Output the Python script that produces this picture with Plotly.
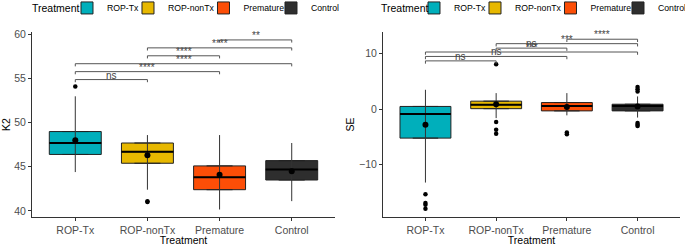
import plotly.graph_objects as go

categories = ["ROP-Tx", "ROP-nonTx", "Premature", "Control"]
colors = ["#00AFBB", "#E7B800", "#FC4E07", "#2E2E2E"]

# K2 panel
k2_q1 = [46.4, 45.4, 42.4, 43.5]
k2_median = [47.7, 46.7, 43.8, 44.7]
k2_q3 = [49.0, 47.7, 45.1, 45.7]
k2_mean = [48.0, 46.3, 44.1, 44.5]
k2_low = [44.4, 42.4, 40.15, 41.1]
k2_high = [53.0, 48.6, 48.6, 47.7]
k2_outliers = [[54.1], [41.0, 41.1], [], []]
k2_bracket_y = [54.9, 55.8, 56.7, 57.6, 58.5, 59.4]
k2_labels = ["ns", "****", "****", "****", "****", "**"]

# SE panel
se_q1 = [-5.2, 0.1, -0.3, -0.3]
se_median = [-0.85, 0.8, 0.6, 0.6]
se_q3 = [0.5, 1.45, 1.2, 0.9]
se_mean = [-2.8, 0.9, 0.4, 0.5]
se_low = [-13.2, -1.6, -1.1, -1.5]
se_high = [3.5, 2.9, 2.9, 2.3]
se_outliers = [[-15.3, -16.9, -17.2, -17.9], [8.1, -2.3, -3.7, -4.4],
               [-4.2, -4.5], [3.2, 3.6, 4.0, -2.5, -2.8, -3.0]]
se_bracket_y = [8.7, 9.5, 10.3, 11.0, 11.8, 12.6]
se_labels = ["ns", "ns", "***", "ns", "***", "****"]

pairs = [(0, 1), (0, 2), (0, 3), (1, 2), (1, 3), (2, 3)]
legend_widths = [16, 30.5, 22.5, 30]

FONT = "Liberation Sans, Arial, sans-serif"
fig = go.Figure()
BW = 0.72


def add_panel(xa, ya, legend, q1, med, q3, mean, low, high, outl, by, labels, tick):
    for i, c in enumerate(categories):
        fig.add_trace(go.Box(x=[i], q1=[q1[i]], median=[med[i]], q3=[q3[i]],
                             lowerfence=[q1[i]], upperfence=[q3[i]], width=BW,
                             fillcolor=colors[i], line=dict(color="#222222", width=1),
                             boxpoints=False, name=c, legend=legend, legendwidth=legend_widths[i],
                             xaxis=xa, yaxis=ya, hoverinfo="skip"))
    for i in range(len(categories)):
        fig.add_trace(go.Scatter(x=[i, i], y=[low[i], high[i]], mode="lines",
                                 line=dict(color="#333333", width=1), showlegend=False,
                                 xaxis=xa, yaxis=ya, hoverinfo="skip"))
        fig.add_trace(go.Scatter(x=[i - BW / 2, i + BW / 2], y=[med[i], med[i]], mode="lines",
                                 line=dict(color="#000000", width=2), showlegend=False,
                                 xaxis=xa, yaxis=ya, hoverinfo="skip"))
        if outl[i]:
            fig.add_trace(go.Scatter(x=[i] * len(outl[i]), y=outl[i], mode="markers",
                                     marker=dict(color="black", size=4.5), showlegend=False,
                                     xaxis=xa, yaxis=ya, hoverinfo="skip"))
    fig.add_trace(go.Scatter(x=list(range(len(categories))), y=mean, mode="markers",
                             marker=dict(color="black", size=6), showlegend=False,
                             xaxis=xa, yaxis=ya, hoverinfo="skip"))
    for (a, b), yb, lab in zip(pairs, by, labels):
        fig.add_trace(go.Scatter(x=[a, a, b, b], y=[yb - tick, yb, yb, yb - tick], mode="lines",
                                 line=dict(color="#555555", width=1), showlegend=False,
                                 xaxis=xa, yaxis=ya, hoverinfo="skip"))
        fig.add_annotation(x=(a + b) / 2, y=yb, xref=xa, yref=ya,
                           text=lab, showarrow=False, yanchor="bottom", yshift=-3,
                           font=dict(size=10, color="#444444", family=FONT))


add_panel("x", "y", "legend", k2_q1, k2_median, k2_q3, k2_mean, k2_low, k2_high,
          k2_outliers, k2_bracket_y, k2_labels, 0.3)
add_panel("x2", "y2", "legend2", se_q1, se_median, se_q3, se_mean, se_low, se_high,
          se_outliers, se_bracket_y, se_labels, 0.5)

# legend titles
for xp, sh in [(0.0, -2), (0.5355, 0)]:
    fig.add_annotation(x=xp, y=1.13, xref="paper", yref="paper", text="Treatment",
                       showarrow=False, xanchor="left", yanchor="middle", xshift=sh,
                       font=dict(size=10.5, color="#000000", family=FONT))

axis_common = dict(showline=True, linecolor="#333333", linewidth=1, ticks="outside",
                   ticklen=3, tickcolor="#333333", showgrid=False, zeroline=False,
                   automargin=False, tickangle=0,
                   tickfont=dict(size=10.5, color="#4D4D4D", family=FONT),
                   title_font=dict(size=10.5, color="#000000", family=FONT))

legend_common = dict(orientation="h", y=1.13, xanchor="left", yanchor="middle",
                     font=dict(size=8.7, color="#000000"), itemwidth=30, tracegroupgap=0,
                     bgcolor="rgba(0,0,0,0)")

fig.update_layout(
    width=685, height=246,
    margin=dict(l=32, r=5, t=32, b=29, autoexpand=False),
    plot_bgcolor="white", paper_bgcolor="white",
    font=dict(family=FONT),
    boxmode="overlay",
    xaxis=dict(domain=[0, 0.4676], range=[-0.6, 3.6], tickvals=[0, 1, 2, 3], ticktext=categories,
               title=dict(text="Treatment", standoff=0), **axis_common),
    yaxis=dict(domain=[0, 1], range=[39.3, 60.3], tickvals=[40, 45, 50, 55, 60],
               title=dict(text="K2", standoff=2), **axis_common),
    xaxis2=dict(domain=[0.5417, 1], range=[-0.6, 3.6], tickvals=[0, 1, 2, 3], ticktext=categories,
                title=dict(text="Treatment", standoff=0), anchor="y2", **axis_common),
    yaxis2=dict(domain=[0, 1], range=[-19.4, 13.9], tickvals=[-10, 0, 10], anchor="x2",
                title=dict(text="SE", standoff=2), **axis_common),
    legend=dict(x=0.054, **legend_common),
    legend2=dict(x=0.5895, **legend_common),
)

fig.write_html("out.html", post_script="document.body.style.margin='0';",
               config={"displayModeBar": False})
